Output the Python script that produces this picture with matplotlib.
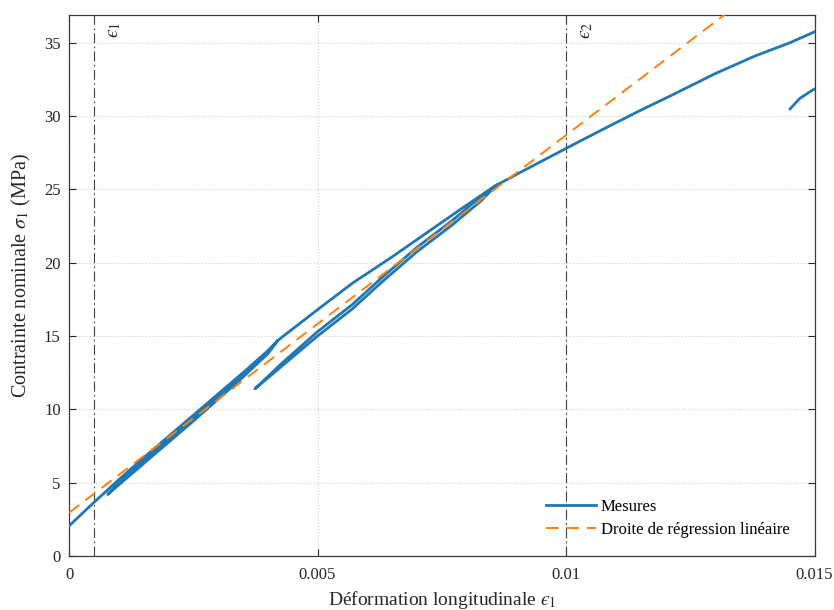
import matplotlib
matplotlib.use('Agg')
import matplotlib.pyplot as plt
import numpy as np
from matplotlib.ticker import FuncFormatter

plt.rcParams['font.family'] = ['Liberation Serif', 'DejaVu Serif']
plt.rcParams['mathtext.fontset'] = 'stix'

# ---- data ----
env1_strain = [0.0, 0.0005, 0.001, 0.0015, 0.002, 0.0025, 0.003, 0.0035, 0.004, 0.0042]
env1_stress = [2.05, 3.65, 5.2, 6.7, 8.15, 9.6, 11.05, 12.5, 14.0, 14.7]

unload1_strain = [0.0042, 0.004, 0.0035, 0.003, 0.0025, 0.002, 0.0015, 0.001, 0.00078]
unload1_stress = [14.7, 13.8, 12.2, 10.7, 9.2, 7.75, 6.3, 4.85, 4.2]

reload1_strain = [0.00078, 0.001, 0.0015, 0.002, 0.0025, 0.003, 0.0035, 0.004, 0.0042,
                  0.005, 0.0057, 0.0065, 0.0072, 0.0079, 0.0086]
reload1_stress = [4.2, 5.0, 6.5, 7.95, 9.4, 10.85, 12.3, 13.85, 14.7,
                  16.8, 18.6, 20.4, 22.05, 23.7, 25.3]

unload2_strain = [0.0086, 0.0083, 0.0077, 0.007, 0.0063, 0.0057, 0.005, 0.0043, 0.00374]
unload2_stress = [25.3, 24.25, 22.55, 20.75, 18.7, 16.85, 15.0, 13.0, 11.4]

reload2_strain = [0.00374, 0.0043, 0.005, 0.0057, 0.0063, 0.007, 0.0077, 0.0083, 0.0086]
reload2_stress = [11.4, 13.2, 15.3, 17.15, 19.0, 21.05, 22.85, 24.55, 25.3]

env2_strain = [0.0086, 0.0088, 0.0091, 0.01, 0.0108, 0.0115, 0.0122, 0.013, 0.0138, 0.0145, 0.015]
env2_stress = [25.3, 25.65, 26.2, 27.8, 29.2, 30.4, 31.55, 32.9, 34.1, 35.0, 35.75]

tail_strain = [0.01451, 0.0147, 0.0149, 0.015]
tail_stress = [30.5, 31.2, 31.65, 31.85]

reg_strain = [0.0, 0.015]
reg_stress = [2.95, 41.58]

eps_marks = [0.0005, 0.01]
eps_labels = ['$\u03f5_1$', '$\u03f5_2$']

xticks = [0, 0.005, 0.01, 0.015]
yticks = [0, 5, 10, 15, 20, 25, 30, 35]

# ---- assemble measurement path ----
meas_x = (env1_strain + unload1_strain[1:] + reload1_strain[1:] + unload2_strain[1:]
          + reload2_strain[1:] + env2_strain[1:] + [np.nan] + tail_strain)
meas_y = (env1_stress + unload1_stress[1:] + reload1_stress[1:] + unload2_stress[1:]
          + reload2_stress[1:] + env2_stress[1:] + [np.nan] + tail_stress)

fig = plt.figure(figsize=(8.34, 6.10), dpi=100)
ax = fig.add_axes([69/834, 54/610, 745.5/834, 541/610])

for xm, lab in zip(eps_marks, eps_labels):
    ax.axvline(xm, color='#404040', lw=0.8, linestyle=(0, (9, 3, 1.5, 3)), zorder=1)
    ax.annotate(lab, xy=(xm, 1), xycoords=('data', 'axes fraction'),
                xytext=(12, -7), textcoords='offset pixels',
                rotation=90, ha='left', va='top', fontsize=14, color='#262626')

ax.plot(meas_x, meas_y, color='#1f77b4', lw=2.0, label='Mesures', zorder=3,
        solid_joinstyle='round')
ax.plot(reg_strain, reg_stress, color='#ff7f0e', lw=1.4, dashes=(6.5, 4),
        label='Droite de régression linéaire', zorder=4)

ax.set_xlim(0, 0.015)
ax.set_ylim(0, 36.9)
ax.set_xticks(xticks)
ax.set_yticks(yticks)
ax.xaxis.set_major_formatter(FuncFormatter(lambda v, p: '%g' % v))
ax.grid(True, linestyle=':', color='#cfcfcf', lw=0.8)
ax.set_axisbelow(True)
ax.tick_params(direction='in', length=5, width=0.8, top=True, right=True,
               labelsize=12, colors='#262626', pad=6)
ax.tick_params(axis='x', pad=8)
for s in ax.spines.values():
    s.set_color('#3a3a3a')
    s.set_linewidth(0.9)

ax.set_xlabel('Déformation longitudinale $\u03f5_1$', fontsize=14, color='#262626', labelpad=4)
ax.set_ylabel(r'Contrainte nominale $\sigma_1$ (MPa)', fontsize=14.5, color='#262626')
ax.yaxis.set_label_coords(-0.048, 0.519)

ax.legend(loc='lower right', bbox_to_anchor=(0.989, 0.002), frameon=False, fontsize=12,
          handlelength=3.0, handletextpad=0.3, borderaxespad=0.6, labelspacing=0.45)

fig.savefig('out.png', dpi=100)
